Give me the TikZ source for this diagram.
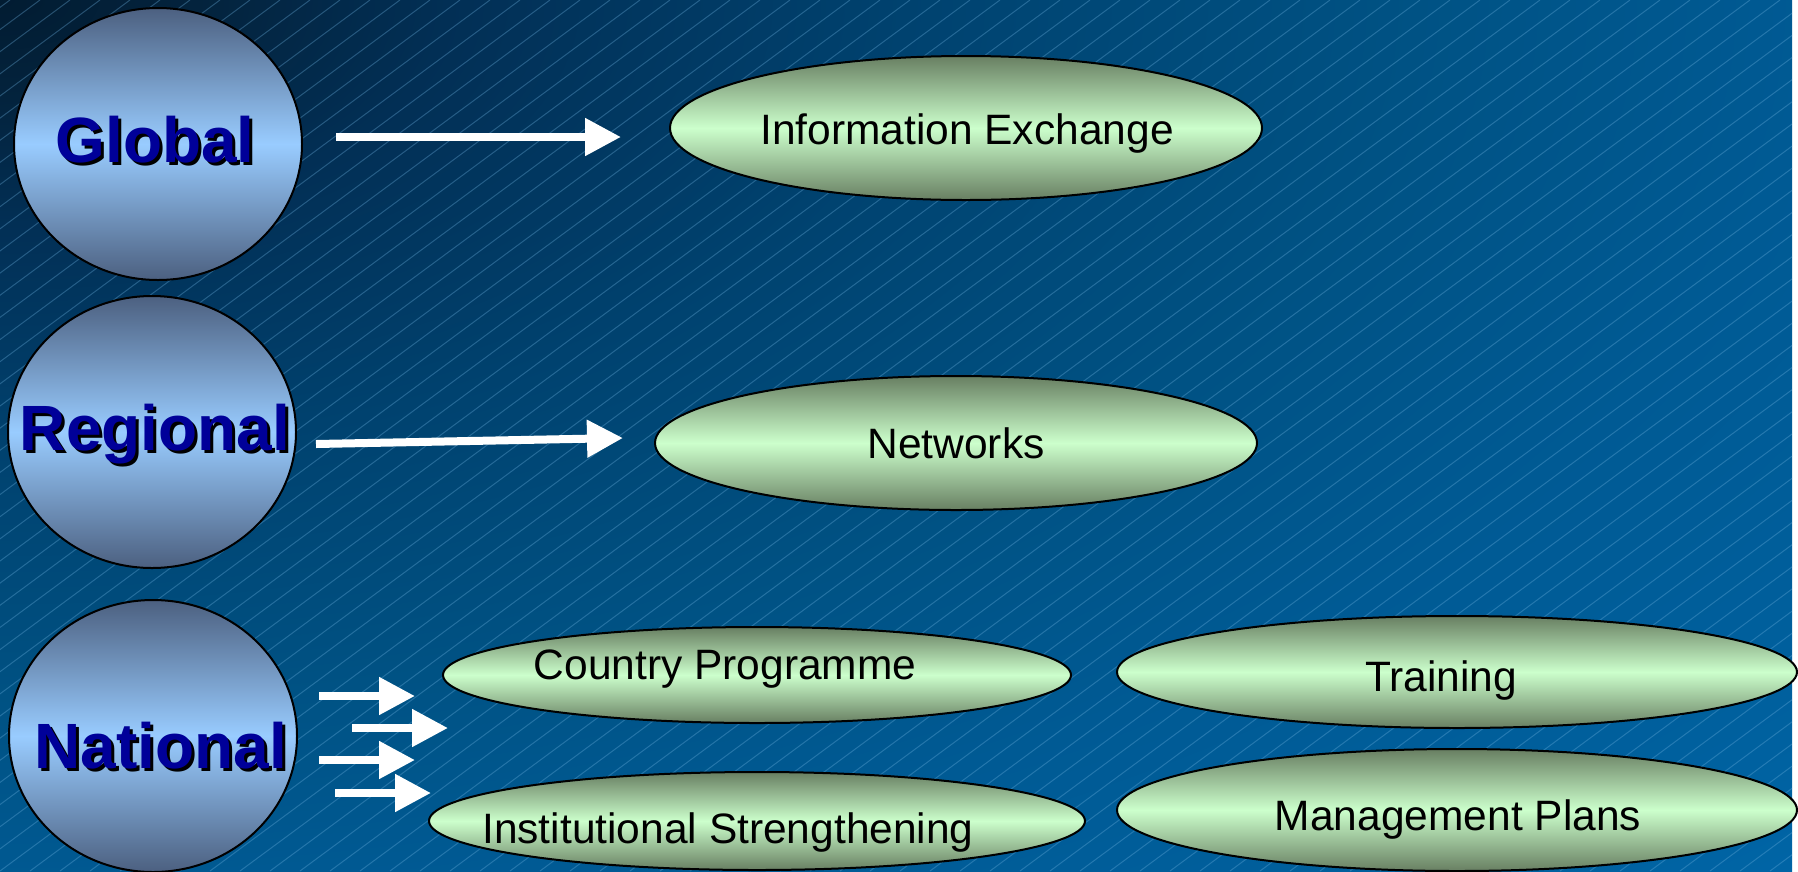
\documentclass[tikz,border=0pt]{standalone}
\usepackage{fontspec}
\setmainfont{Liberation Sans}
\usepackage{tikz}
\usetikzlibrary{arrows.meta,shapes,calc}
\definecolor{bgA}{HTML}{021C32}
\definecolor{bgB}{HTML}{03233D}
\definecolor{bgC}{HTML}{022F55}
\definecolor{bgD}{HTML}{00426F}
\definecolor{bgE}{HTML}{005284}
\definecolor{bgF}{HTML}{005A94}
\definecolor{bgG}{HTML}{00609E}
\definecolor{bgH}{HTML}{0070B8}
\definecolor{levelshade}{HTML}{4C6080}
\definecolor{levellight}{HTML}{99CCFF}
\definecolor{levelblue}{HTML}{000099}
\definecolor{topicshade}{HTML}{687F62}
\definecolor{topiclight}{HTML}{CCFFCC}
\definecolor{hatchblue}{HTML}{6AAEDC}
\pgfdeclareradialshading{slidebg}{\pgfpoint{0bp}{0bp}}{color(0bp)=(bgA); color(1.9bp)=(bgB); color(4.3bp)=(bgC); color(8.7bp)=(bgD); color(13.6bp)=(bgE); color(17.4bp)=(bgF); color(21.7bp)=(bgG); color(29.8bp)=(bgH); color(50bp)=(bgH)}
\tikzstyle{level}=[ellipse,draw,line width=2pt,minimum width=288pt,minimum height=272pt,top color=levelshade,bottom color=levelshade,middle color=levellight]
\tikzstyle{levelname}=[font=\fontsize{64}{70}\selectfont\bfseries,text=levelblue,anchor=base,inner sep=0pt]
\tikzstyle{topic}=[ellipse,draw,line width=2pt,inner sep=0pt,top color=topicshade,bottom color=topicshade,middle color=topiclight]
\tikzstyle{topicname}=[font=\fontsize{42.5}{50}\selectfont,anchor=base,inner sep=0pt]
\tikzstyle{pointer}=[draw,white,line width=8pt,-{Triangle[length=36pt,width=36pt]}]
\tikzstyle{hatch}=[hatchblue,line width=1pt,opacity=0.35]

\begin{document}
\begin{tikzpicture}[x=1pt,y=-1pt]
    \useasboundingbox (0,0) rectangle (1798,871);
    % background, darkest in the top left corner, with thin diagonal lines
    \begin{scope}
        \clip (0,0) rectangle (1792,871);
        \shade[shading=slidebg] (-2600,-1300) rectangle (2600,1300);
        \foreach \i in {-40,...,60}
            \draw[hatch] (\i*30,871) -- ++(1180,-871);
    \end{scope}

    % the three levels
    \foreach \pos/\name in {{(158,144)/global}, {(152,432)/regional}, {(153,736)/national}}
        \node[level] (\name) at \pos {};
    \foreach \x/\y/\name/\word in {155/162/global/Global, 155/450/regional/Regional, 161/768/national/National}{
        \node[levelname,text=black] (\name-shadow) at (\x+3,\y+3) {\word};
        \node[levelname] (\name-text) at (\x,\y) {\word};
    }

    % the topics
    \node[topic,minimum width=592pt,minimum height=144pt] (info) at (966,128) {};
    \node[topic,minimum width=602pt,minimum height=134pt] (networks) at (956,443) {};
    \node[topic,minimum width=628pt,minimum height=96pt] (country) at (757,675) {};
    \node[topic,minimum width=656pt,minimum height=98pt] (institutional) at (757,821) {};
    \node[topic,minimum width=680pt,minimum height=112pt] (training) at (1457,672) {};
    \node[topic,minimum width=680pt,minimum height=122pt] (plans) at (1457,810) {};
    \foreach \x/\y/\name/\words in {967/144/info/{Information Exchange}, 956/458/networks/Networks,
        725/679/country/{Country Programme}, 728/843/institutional/{Institutional Strengthening},
        1441/691/training/Training, 1458/830/plans/{Management Plans}}
        \node[topicname] (\name-text) at (\x,\y) {\words};

    % arrows
    \path[pointer] ($(global.east)+(33,-7)$) -- ($(info.west)+(-48,9)$);
    \path[pointer] ($(regional.east)+(19,12)$) -- ($(networks.west)+(-31,-5)$);
    \foreach \dx/\dy in {21/-40, 54/-8, 21/24, 37/57}
        \path[pointer] ($(national.east)+(\dx,\dy)$) -- ++(96,0);
\end{tikzpicture}
\end{document}
